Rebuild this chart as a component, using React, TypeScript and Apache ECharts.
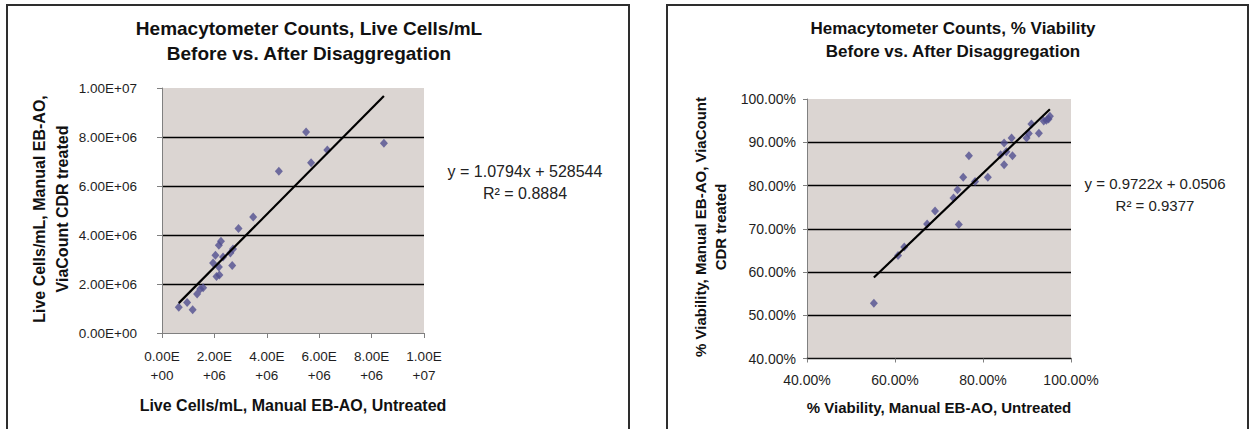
import React, { useEffect, useRef } from "react";
import * as echarts from "echarts";

// Left chart: Live Cells/mL (untreated vs treated)
const liveUntreated = [0.64e6, 0.96e6, 1.17e6, 1.34e6, 1.46e6, 1.57e6, 1.95e6, 2.04e6, 2.08e6, 2.19e6, 2.17e6, 2.17e6, 2.25e6, 2.33e6, 2.61e6, 2.71e6, 2.68e6, 2.92e6, 3.48e6, 4.46e6, 5.5e6, 5.69e6, 6.31e6, 8.47e6];
const liveTreated = [1.05e6, 1.25e6, 0.95e6, 1.59e6, 1.8e6, 1.85e6, 2.86e6, 3.17e6, 2.31e6, 2.37e6, 2.69e6, 3.58e6, 3.75e6, 3.1e6, 3.27e6, 3.43e6, 2.76e6, 4.27e6, 4.73e6, 6.6e6, 8.2e6, 6.95e6, 7.47e6, 7.75e6];
const liveSlope = 1.0794;
const liveIntercept = 528544;

// Right chart: % viability (untreated vs treated), in percent
const viaUntreated = [55.2, 60.7, 62.1, 67.3, 69.1, 73.3, 74.2, 74.5, 75.5, 76.8, 78.2, 81.1, 84.0, 84.8, 84.8, 85.3, 86.5, 86.7, 89.9, 90.4, 91.0, 92.7, 93.8, 94.4, 94.9, 95.2];
const viaTreated = [52.8, 63.8, 65.8, 71.1, 74.1, 77.1, 79.0, 71.0, 81.9, 86.9, 80.9, 81.9, 87.1, 89.8, 84.8, 87.8, 91.0, 86.9, 91.0, 92.0, 94.2, 92.1, 94.9, 95.1, 95.4, 96.0];
const viaSlope = 0.9722;
const viaIntercept = 5.06; // 0.0506 expressed in percent units

const leftTitle = "Hemacytometer Counts, Live Cells/mL\nBefore vs. After Disaggregation";
const rightTitle = "Hemacytometer Counts, % Viability\nBefore vs. After Disaggregation";
const leftXName = "Live Cells/mL, Manual EB-AO, Untreated";
const leftYName = "Live Cells/mL, Manual EB-AO,\nViaCount CDR treated";
const rightXName = "% Viability, Manual EB-AO, Untreated";
const rightYName = "% Viability, Manual EB-AO, ViaCount\nCDR treated";
const leftEq = "y = 1.0794x + 528544\nR² = 0.8884";
const rightEq = "y = 0.9722x + 0.0506\nR² = 0.9377";

const FONT = "'Liberation Sans', Arial, Helvetica, sans-serif";

function sci(v: number): string {
  if (v === 0) return "0.00E+00";
  const e = Math.floor(Math.log10(v) + 1e-9);
  const m = v / Math.pow(10, e);
  return m.toFixed(2) + "E+" + String(e).padStart(2, "0");
}

function trend(xs: number[], slope: number, intercept: number) {
  const lo = Math.min(...xs);
  const hi = Math.max(...xs);
  return [
    [lo, slope * lo + intercept],
    [hi, slope * hi + intercept],
  ];
}

export default function App() {
  const ref = useRef<HTMLDivElement>(null);
  useEffect(() => {
    if (!ref.current) return;
    const chart = echarts.init(ref.current, undefined, { renderer: "svg" });
    const axisGrey = "#808080";
    const labelColor = "#1e1e1e";
    const markerColor = "#514F90";
    const plotBg = "#DBD5D2";

    chart.setOption({
      animation: false,
      backgroundColor: "#ffffff",
      title: [
        {
          text: leftTitle,
          left: 309,
          top: 15.5,
          textAlign: "center",
          padding: 0,
          textStyle: { fontFamily: FONT, fontSize: 19, fontWeight: "bold", lineHeight: 25, color: "#111" },
        },
        {
          text: rightTitle,
          left: 953,
          top: 16.5,
          textAlign: "center",
          padding: 0,
          textStyle: { fontFamily: FONT, fontSize: 17, fontWeight: "bold", lineHeight: 23, color: "#111" },
        },
      ],
      grid: [
        { left: 162, top: 88, width: 262, height: 245, show: true, backgroundColor: plotBg, borderWidth: 0 },
        { left: 807, top: 99, width: 264, height: 259.5, show: true, backgroundColor: plotBg, borderWidth: 0 },
      ],
      xAxis: [
        {
          gridIndex: 0,
          type: "value",
          min: 0,
          max: 1e7,
          interval: 2e6,
          axisLine: { show: true, onZero: false, lineStyle: { color: axisGrey, width: 1 } },
          axisTick: { show: true, inside: false, length: 5, lineStyle: { color: axisGrey } },
          splitLine: { show: false },
          axisLabel: {
            margin: 14,
            fontFamily: FONT,
            fontSize: 13.5,
            lineHeight: 19,
            color: labelColor,
            formatter: (v: number) => sci(v).replace("E", "E\n"),
          },
        },
        {
          gridIndex: 1,
          type: "value",
          min: 40,
          max: 100,
          interval: 20,
          axisLine: { show: true, onZero: false, lineStyle: { color: "#111", width: 1.4 } },
          axisTick: { show: true, inside: false, length: 4, lineStyle: { color: axisGrey } },
          splitLine: { show: false },
          axisLabel: {
            margin: 14,
            fontFamily: FONT,
            fontSize: 14,
            color: labelColor,
            formatter: (v: number) => v.toFixed(2) + "%",
          },
        },
      ],
      yAxis: [
        {
          gridIndex: 0,
          type: "value",
          min: 0,
          max: 1e7,
          interval: 2e6,
          axisLine: { show: true, onZero: false, lineStyle: { color: axisGrey, width: 1 } },
          axisTick: { show: true, inside: false, length: 5, lineStyle: { color: axisGrey } },
          splitLine: { show: true, showMinLine: false, showMaxLine: false, lineStyle: { color: "#000", width: 1.3 } },
          axisLabel: {
            margin: 25,
            fontFamily: FONT,
            fontSize: 13.5,
            color: labelColor,
            formatter: (v: number) => sci(v),
          },
        },
        {
          gridIndex: 1,
          type: "value",
          min: 40,
          max: 100,
          interval: 10,
          axisLine: { show: true, onZero: false, lineStyle: { color: axisGrey, width: 1 } },
          axisTick: { show: true, inside: false, length: 4, lineStyle: { color: axisGrey } },
          splitLine: { show: true, showMinLine: false, showMaxLine: false, lineStyle: { color: "#000", width: 1.3 } },
          axisLabel: {
            margin: 11,
            fontFamily: FONT,
            fontSize: 14,
            color: labelColor,
            formatter: (v: number) => v.toFixed(2) + "%",
          },
        },
      ],
      series: [
        {
          type: "scatter",
          xAxisIndex: 0,
          yAxisIndex: 0,
          symbol: "diamond",
          symbolSize: [8, 9],
          itemStyle: { color: markerColor },
          data: liveUntreated.map((x, i) => [x, liveTreated[i]]),
          z: 3,
        },
        {
          type: "line",
          xAxisIndex: 0,
          yAxisIndex: 0,
          symbol: "none",
          lineStyle: { color: "#000", width: 2.2 },
          data: trend(liveUntreated, liveSlope, liveIntercept),
          z: 4,
        },
        {
          type: "scatter",
          xAxisIndex: 1,
          yAxisIndex: 1,
          symbol: "diamond",
          symbolSize: [8, 9],
          itemStyle: { color: markerColor },
          data: viaUntreated.map((x, i) => [x, viaTreated[i]]),
          z: 3,
        },
        {
          type: "line",
          xAxisIndex: 1,
          yAxisIndex: 1,
          symbol: "none",
          lineStyle: { color: "#000", width: 2.2 },
          data: trend(viaUntreated, viaSlope, viaIntercept),
          z: 4,
        },
      ],
      graphic: [
        {
          type: "rect",
          shape: { x: 7, y: 5, width: 622, height: 440 },
          style: { fill: "none", stroke: "#2e2e2e", lineWidth: 2 },
          silent: true,
        },
        {
          type: "rect",
          shape: { x: 667, y: 5, width: 581, height: 440 },
          style: { fill: "none", stroke: "#2e2e2e", lineWidth: 2 },
          silent: true,
        },
        {
          type: "text",
          x: 293,
          y: 405,
          style: { text: leftXName, font: `bold 16px ${FONT}`, fill: "#111", textAlign: "center", textVerticalAlign: "middle" },
        },
        {
          type: "text",
          x: 51,
          y: 209,
          rotation: Math.PI / 2,
          style: { text: leftYName, font: `bold 16px ${FONT}`, lineHeight: 23, fill: "#111", textAlign: "center", textVerticalAlign: "middle" },
        },
        {
          type: "text",
          x: 939,
          y: 407,
          style: { text: rightXName, font: `bold 15px ${FONT}`, fill: "#111", textAlign: "center", textVerticalAlign: "middle" },
        },
        {
          type: "text",
          x: 710,
          y: 227,
          rotation: Math.PI / 2,
          style: { text: rightYName, font: `bold 15px ${FONT}`, lineHeight: 20, fill: "#111", textAlign: "center", textVerticalAlign: "middle" },
        },
        {
          type: "text",
          x: 525,
          y: 182,
          style: { text: leftEq, font: `16px ${FONT}`, lineHeight: 22, fill: "#222", textAlign: "center", textVerticalAlign: "middle" },
        },
        {
          type: "text",
          x: 1155,
          y: 194,
          style: { text: rightEq, font: `15px ${FONT}`, lineHeight: 22, fill: "#222", textAlign: "center", textVerticalAlign: "middle" },
        },
      ],
    });
    return () => chart.dispose();
  }, []);

  return (
    <div
      ref={ref}
      style={{ position: "absolute", left: 0, top: 0, width: 1251, height: 429 }}
    />
  );
}
